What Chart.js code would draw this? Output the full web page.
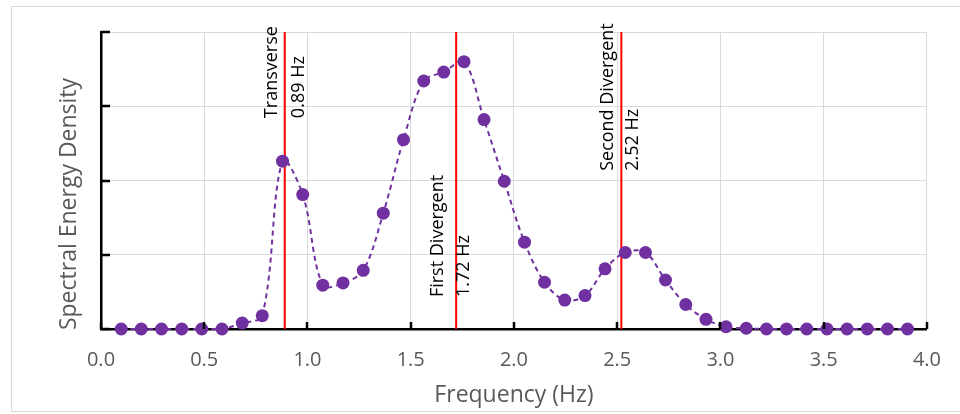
<!DOCTYPE html>
<html>
<head>
<meta charset="utf-8">
<script src="https://cdn.jsdelivr.net/npm/chart.js@4.4.0/dist/chart.umd.min.js"></script>
<style>
  html, body { margin: 0; padding: 0; background: #fff; }
  #wrap { position: relative; width: 960px; height: 414px; }
</style>
</head>
<body>
<div id="wrap"><canvas id="spectrum"></canvas></div>
<script>
// frequency bins (Hz)
var freqs = [0.098, 0.195, 0.293, 0.391, 0.488, 0.586, 0.684, 0.781, 0.879, 0.977,
             1.074, 1.172, 1.270, 1.367, 1.465, 1.563, 1.660, 1.758, 1.855, 1.953,
             2.051, 2.148, 2.246, 2.344, 2.441, 2.539, 2.637, 2.734, 2.832, 2.930,
             3.027, 3.125, 3.223, 3.320, 3.418, 3.516, 3.613, 3.711, 3.809, 3.906];
// spectral energy density (arbitrary units)
var energy = [0, 0, 0, 0, 0, 0, 0.08, 0.18, 2.26, 1.81,
              0.59, 0.62, 0.79, 1.56, 2.55, 3.34, 3.46, 3.60, 2.82, 1.99,
              1.17, 0.63, 0.39, 0.45, 0.81, 1.03, 1.03, 0.66, 0.33, 0.13,
              0.03, 0.01, 0, 0, 0, 0, 0, 0, 0, 0];
// identified modes
var modeNames = ["Transverse", "First Divergent", "Second Divergent"];
var modeFreqs = [0.89, 1.72, 2.52];
var xTicks = [0, 0.5, 1, 1.5, 2, 2.5, 3, 3.5, 4];
var yTicks = [0, 1, 2, 3, 4];

var font = "'Open Sans'";
var purple = "#7030A0";

var points = freqs.map(function (f, i) { return { x: f, y: energy[i] }; });

var datasets = [{
  label: "SED",
  data: points,
  borderColor: purple,
  backgroundColor: purple,
  borderWidth: 2,
  borderDash: [5, 4],
  tension: 0.35,
  pointRadius: 6.5,
  pointHoverRadius: 6.5,
  pointBorderWidth: 0,
  clip: false,
  order: 1
}];
modeFreqs.forEach(function (f) {
  datasets.push({
    data: [{ x: f, y: 0 }, { x: f, y: 4 }],
    borderColor: "#FF0000",
    borderWidth: 2,
    pointRadius: 0,
    tension: 0,
    order: 2
  });
});

// mode labels, inside ticks, axis titles and outer frame
var decorations = {
  id: "decorations",
  beforeDraw: function (chart) {
    var c = chart.ctx;
    c.save();
    c.fillStyle = "#fff";
    c.fillRect(0, 0, chart.width, chart.height);
    c.strokeStyle = "#d9d9d9";
    c.lineWidth = 1;
    c.strokeRect(11.5, 6.5, 960, 405);
    c.restore();
  },
  afterDraw: function (chart, args, opts) {
    var c = chart.ctx, xs = chart.scales.x, ys = chart.scales.y;
    var area = chart.chartArea;
    c.save();
    // inside tick marks
    c.strokeStyle = "#000";
    c.lineWidth = 2.5;
    c.beginPath();
    xTicks.forEach(function (t) {
      var px = Math.round(xs.getPixelForValue(t));
      c.moveTo(px, area.bottom);
      c.lineTo(px, area.bottom - 7);
    });
    yTicks.forEach(function (t) {
      var py = Math.round(ys.getPixelForValue(t));
      c.moveTo(area.left, py);
      c.lineTo(area.left + 9, py);
    });
    c.stroke();

    // axis titles
    c.fillStyle = "#595959";
    c.font = "23px " + font;
    c.textAlign = "center";
    c.textBaseline = "middle";
    c.fillText("Frequency (Hz)", (area.left + area.right) / 2, 395);
    c.save();
    c.translate(69, 204);
    c.rotate(-Math.PI / 2);
    c.fillText("Spectral Energy Density", 0, 0);
    c.restore();

    // mode labels
    c.fillStyle = "#000";
    c.font = "18px " + font;
    c.textAlign = "left";
    c.textBaseline = "middle";
    modeFreqs.forEach(function (f, i) {
      var px = xs.getPixelForValue(f);
      var py = ys.getPixelForValue(opts.anchor[i]);
      c.save();
      c.translate(px, py);
      c.rotate(-Math.PI / 2);
      c.fillText(modeNames[i], 0, opts.leftGap[i]);
      c.fillText(f.toFixed(2) + " Hz", 0, opts.rightGap[i]);
      c.restore();
    });
    c.restore();
  }
};

new Chart(document.getElementById("spectrum"), {
  type: "line",
  data: { datasets: datasets },
  options: {
    responsive: true,
    maintainAspectRatio: false,
    animation: false,
    layout: { padding: { left: 0, right: 32, top: 32, bottom: 0 } },
    plugins: {
      legend: { display: false },
      tooltip: { enabled: false },
      decorations: {
        anchor: [2.84, 0.43, 2.13],
        leftGap: [-12.5, -18, -13],
        rightGap: [14, 7.5, 12]
      }
    },
    scales: {
      x: {
        type: "linear",
        min: 0,
        max: 4,
        afterFit: function (s) { s.height = 85; },
        afterBuildTicks: function (s) { s.ticks = xTicks.map(function (v) { return { value: v }; }); },
        ticks: {
          color: "#595959",
          font: { family: font, size: 20 },
          padding: 19,
          maxRotation: 0,
          callback: function (v) { return Number(v).toFixed(1); }
        },
        grid: { color: "#d9d9d9", lineWidth: 1, drawTicks: false },
        border: { color: "#000", width: 2.5 }
      },
      y: {
        min: 0,
        max: 4,
        afterFit: function (s) { s.width = 101; },
        afterBuildTicks: function (s) { s.ticks = yTicks.map(function (v) { return { value: v }; }); },
        ticks: { display: false },
        grid: { color: "#d9d9d9", lineWidth: 1, drawTicks: false },
        border: { color: "#000", width: 2.5 }
      }
    }
  },
  plugins: [decorations]
});
</script>
</body>
</html>
